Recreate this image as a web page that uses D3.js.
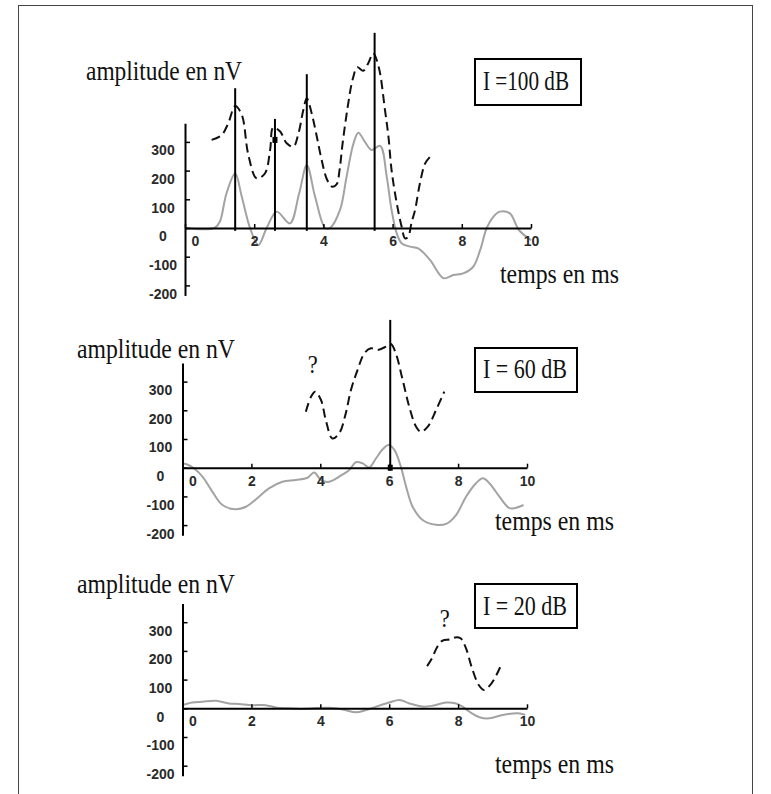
<!DOCTYPE html>
<html>
<head>
<meta charset="utf-8">
<script src="https://cdn.jsdelivr.net/npm/d3@7"></script>
<style>
  body { margin: 0; background: #fff; }
  svg { display: block; }
</style>
</head>
<body>
<svg id="chart" width="771" height="794"></svg>
<script>
// Tick values and text
const timeTicks = [0, 2, 4, 6, 8, 10];
const ampTicks = [-200, -100, 0, 100, 200, 300];
const intensityLabels = ["I =100 dB", "I = 60 dB", "I = 20 dB"];
const ampTitle = "amplitude en nV";
const timeTitle = "temps en ms";

// I = 100 dB : [time (ms), amplitude (nV)]
const solid100 = [[0,0],[0.85,0],[1.0,20],[1.2,121],[1.45,190],[1.64,110],[1.88,0],[2.12,-59],[2.36,0],
  [2.65,57],[3.03,16],[3.3,121],[3.52,219],[3.76,109],[4.05,0],[4.19,0],[4.48,63],[4.67,179],[4.87,295],
  [5.01,332],[5.2,300],[5.39,272],[5.64,286],[5.83,179],[5.97,63],[6.12,-19],[6.26,-53],[6.5,-65],
  [6.74,-71],[7.08,-111],[7.47,-175],[7.76,-164],[8.04,-158],[8.33,-135],[8.53,-77],[8.72,0],[8.91,39],
  [9.1,57],[9.39,51],[9.65,-7],[10,-42]];
const dashed100 = [[0.77,307],[1.06,324],[1.25,365],[1.45,425],[1.64,395],[1.83,255],[2.07,173],[2.31,190],
  [2.46,272],[2.55,350],[2.75,336],[2.94,295],[3.13,283],[3.28,330],[3.42,411],[3.52,452],[3.66,400],
  [3.8,324],[3.95,237],[4.1,170],[4.25,144],[4.38,152],[4.47,205],[4.55,290],[4.7,420],[4.85,520],
  [4.98,560],[5.15,548],[5.3,575],[5.44,609],[5.6,560],[5.78,411],[5.88,318],[5.97,202],[6.12,86],
  [6.26,5],[6.36,-36],[6.45,-30],[6.55,20],[6.65,63],[6.79,156],[6.94,225],[7.08,248]];
// wave markers: [time, top of the line]
const marks100 = [[1.45,487],[2.6,380],[3.52,536],[5.48,680]];
// small square picked on the dashed trace
const dots100 = [[2.6,307]];

// I = 60 dB
const solid60 = [[0,15],[0.1,13],[0.33,-2],[0.58,-31],[0.87,-84],[1.16,-130],[1.55,-145],[1.84,-136],
  [2.22,-101],[2.51,-72],[2.9,-49],[3.29,-43],[3.63,-35],[3.82,-17],[4.02,-43],[4.26,-49],[4.55,-31],
  [4.84,-8],[5.03,19],[5.23,15],[5.42,1],[5.62,33],[5.81,64],[5.98,79],[6.15,62],[6.34,3],[6.49,-66],
  [6.68,-136],[6.97,-182],[7.36,-199],[7.65,-196],[7.94,-165],[8.23,-101],[8.52,-54],[8.72,-37],
  [8.91,-54],[9.2,-101],[9.49,-141],[9.64,-141],[9.9,-130]];
const dashed60 = [[3.58,195],[3.73,247],[3.85,265],[4.02,236],[4.16,166],[4.35,102],[4.55,120],[4.74,190],
  [4.89,271],[5.08,340],[5.28,399],[5.47,416],[5.66,410],[5.91,422],[6.05,431],[6.19,399],[6.39,306],
  [6.58,213],[6.78,143],[6.92,125],[7.12,143],[7.36,201],[7.6,265]];
const marks60 = [[6.03,515]];
const dots60 = [[6.03,0]];

// I = 20 dB
const solid20 = [[0,11],[0.28,20],[0.58,23],[0.97,26],[1.35,17],[1.64,15],[2.03,11],[2.42,11],[2.71,3],
  [3.1,0],[3.48,-2],[3.87,1],[4.26,2],[4.65,-4],[5.03,-14],[5.33,-6],[5.62,6],[6.0,20],[6.3,29],[6.59,17],
  [6.97,6],[7.26,9],[7.65,20],[7.94,17],[8.13,6],[8.33,-12],[8.62,-31],[8.91,-35],[9.3,-23],[9.74,-17],
  [9.95,-23]];
const dashed20 = [[7.1,147],[7.24,174],[7.39,213],[7.55,236],[7.76,240],[7.92,247],[8.07,244],[8.23,209],
  [8.39,145],[8.6,81],[8.75,64],[8.91,78],[9.06,104],[9.22,143]];
const marks20 = [];
const dots20 = [];

// "?" annotations placed in data coordinates
const queries = [null, [3.78, 330], [7.61, 284]];

const panels = [
  { title: intensityLabels[0], solid: solid100, dashed: dashed100, marks: marks100, dots: dots100, query: queries[0],
    x0: 185, x1: 531, zero: 228,
    ampLbl: [86, 80, 156], timeLbl: [500, 283, 119], box: [475, 59, 106, 46], titleLbl: [483, 90, 86] },
  { title: intensityLabels[1], solid: solid60, dashed: dashed60, marks: marks60, dots: dots60, query: queries[1],
    x0: 182.5, x1: 527, zero: 467.7,
    ampLbl: [77, 358, 158], timeLbl: [495, 530, 119], box: [475, 348, 102, 44], titleLbl: [483, 378, 84] },
  { title: intensityLabels[2], solid: solid20, dashed: dashed20, marks: marks20, dots: dots20, query: queries[2],
    x0: 182.5, x1: 527, zero: 708.3,
    ampLbl: [77, 593, 158], timeLbl: [495, 773, 119], box: [475, 584, 102, 44], titleLbl: [483, 615, 84] }
];

const svg = d3.select("#chart");
const SERIF = "'Liberation Serif', 'Times New Roman', serif";
const SANS = "'Liberation Sans', Arial, sans-serif";
const PX_PER_NV = 0.287;

// outer frame
svg.append("rect")
  .attr("x", 18.5).attr("y", 5.5).attr("width", 734).attr("height", 800)
  .attr("fill", "none").attr("stroke", "#444").attr("stroke-width", 1);

function serifText(g, str, x, y, len, size) {
  return g.append("text")
    .attr("x", x).attr("y", y)
    .attr("font-family", SERIF).attr("font-size", size)
    .attr("fill", "#111")
    .attr("textLength", len).attr("lengthAdjust", "spacingAndGlyphs")
    .text(str);
}

panels.forEach(p => {
  const g = svg.append("g");
  const x = d3.scaleLinear().domain([0, 10]).range([p.x0, p.x1]);
  const y = d3.scaleLinear().domain([-235, 365])
    .range([p.zero + 235 * PX_PER_NV, p.zero - 365 * PX_PER_NV]);

  const line = d3.line().x(d => x(d[0])).y(d => y(d[1])).curve(d3.curveCatmullRom.alpha(0.5));

  // solid grey trace
  g.append("path").datum(p.solid)
    .attr("d", line).attr("fill", "none")
    .attr("stroke", "#a3a3a3").attr("stroke-width", 2).attr("stroke-linejoin", "round");

  // dashed trace
  g.append("path").datum(p.dashed)
    .attr("d", line).attr("fill", "none")
    .attr("stroke", "#111").attr("stroke-width", 2).attr("stroke-dasharray", "9,5");

  // vertical wave markers
  g.selectAll(".mark").data(p.marks).enter().append("line")
    .attr("x1", d => x(d[0])).attr("x2", d => x(d[0]))
    .attr("y1", y(-10)).attr("y2", d => y(d[1]))
    .attr("stroke", "#000").attr("stroke-width", 2);

  g.selectAll(".dot").data(p.dots).enter().append("rect")
    .attr("x", d => x(d[0]) - 2.5).attr("y", d => y(d[1]) - 3)
    .attr("width", 5).attr("height", 6).attr("fill", "#000");

  // x axis
  const xAxis = g.append("g").attr("transform", `translate(0,${y(0)})`)
    .call(d3.axisBottom(x).tickValues(timeTicks).tickSizeInner(-4).tickSizeOuter(0)
      .tickPadding(8).tickFormat(d => String(d)));
  xAxis.select(".domain").attr("stroke", "#000").attr("stroke-width", 2);
  xAxis.selectAll(".tick line").attr("stroke", "#000").attr("stroke-width", 1.5);
  xAxis.selectAll(".tick text")
    .attr("font-family", SANS).attr("font-size", 14).attr("font-weight", 700).attr("fill", "#2a2a2a")
    .attr("dx", d => d === 0 ? 10 : 0);

  // y axis
  const yAxis = g.append("g").attr("transform", `translate(${x(0)},0)`)
    .call(d3.axisLeft(y).tickValues(ampTicks).tickSizeInner(-5).tickSizeOuter(0)
      .tickFormat(d => String(d)));
  yAxis.select(".domain").attr("stroke", "#000").attr("stroke-width", 2);
  yAxis.selectAll(".tick line").attr("stroke", "#000").attr("stroke-width", 1.5);
  yAxis.selectAll(".tick text")
    .attr("font-family", SANS).attr("font-size", 14).attr("font-weight", 700).attr("fill", "#2a2a2a")
    .attr("text-anchor", "middle").attr("x", -22).attr("y", 8).attr("dy", "0.35em");

  // axis titles
  serifText(g, ampTitle, p.ampLbl[0], p.ampLbl[1], p.ampLbl[2], 27);
  serifText(g, timeTitle, p.timeLbl[0], p.timeLbl[1], p.timeLbl[2], 27);

  // intensity box
  g.append("rect")
    .attr("x", p.box[0]).attr("y", p.box[1]).attr("width", p.box[2]).attr("height", p.box[3])
    .attr("fill", "none").attr("stroke", "#000").attr("stroke-width", 2);
  serifText(g, p.title, p.titleLbl[0], p.titleLbl[1], p.titleLbl[2], 27);

  if (p.query) {
    serifText(g, "?", x(p.query[0]) - 5, y(p.query[1]), 10, 26);
  }
});
</script>
</body>
</html>
